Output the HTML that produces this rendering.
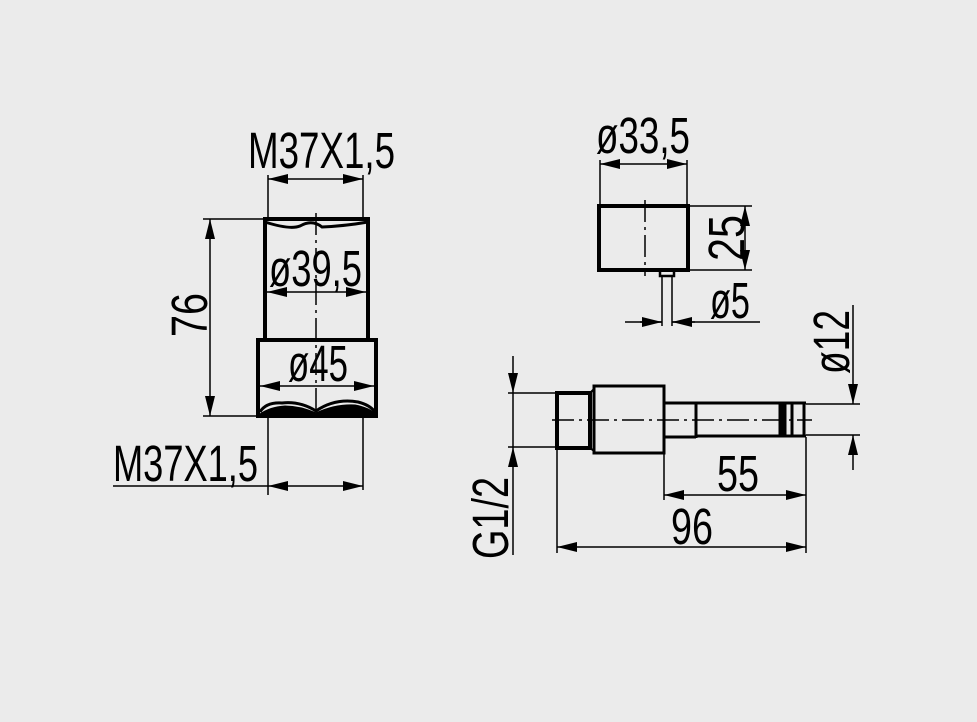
<!DOCTYPE html>
<html><head><meta charset="utf-8"><style>
html,body{margin:0;padding:0;background:#ebebeb;}
svg{display:block}
text{font-family:"Liberation Sans Narrow","Liberation Sans",sans-serif;font-size:51px;fill:#000}
</style></head><body>
<svg width="977" height="722" viewBox="0 0 977 722" xmlns="http://www.w3.org/2000/svg">
<defs>
<marker id="a" viewBox="0 0 20 10" refX="20" refY="5" markerWidth="20" markerHeight="10" markerUnits="userSpaceOnUse" orient="auto-start-reverse"><path d="M0,0 L20,5 L0,10 Z" fill="#000"/></marker>
</defs>
<rect width="977" height="722" fill="#ebebeb"/>
<g stroke="#000" fill="none">
<!-- left part -->
<rect x="265" y="219" width="103" height="121" stroke-width="4"/>
<rect x="258" y="340" width="118" height="76" stroke-width="4"/>
<path d="M265,222 Q290,230 300,226 Q312,219 322,227 Q345,226 368,222" stroke-width="3"/>
<path d="M260,412 Q266,402 282,403 Q300,401 316,411 Q335,398 358,402 Q370,405 375,412" stroke-width="3"/>
<path d="M260,414 Q270,407 285,406 Q300,406 316,413 Q335,404 355,405 Q370,408 375,414 Z" fill="#000" stroke-width="1"/>
<path d="M316,213 V422" stroke-width="1.5" stroke-dasharray="22,5,3,5"/>
<!-- top M37 dim -->
<path d="M268,175 V219 M363,175 V219" stroke-width="1.5"/>
<path d="M268,179 H363" stroke-width="1.5" marker-start="url(#a)" marker-end="url(#a)"/>
<!-- 76 -->
<path d="M203,219 H265 M203,416 H258" stroke-width="1.5"/>
<path d="M210,219 V416" stroke-width="1.5" marker-start="url(#a)" marker-end="url(#a)"/>
<!-- ø39,5 -->
<path d="M267,292 H366" stroke-width="1.5" marker-start="url(#a)" marker-end="url(#a)"/>
<!-- ø45 -->
<path d="M260,386 H374" stroke-width="1.5" marker-start="url(#a)" marker-end="url(#a)"/>
<!-- bottom M37 -->
<path d="M268,416 V495 M363,416 V490" stroke-width="1.5"/>
<path d="M113,486 H268" stroke-width="1.5"/>
<path d="M268,486 H363" stroke-width="1.5" marker-start="url(#a)" marker-end="url(#a)"/>

<!-- right top -->
<rect x="599" y="206" width="89" height="64" stroke-width="4"/>
<path d="M645,200 V276" stroke-width="1.5" stroke-dasharray="22,5,3,5"/>
<rect x="660" y="270" width="14" height="6" stroke-width="2.5"/>
<path d="M662,276 V326 M672,276 V326" stroke-width="1.5"/>
<path d="M600,160 V206 M687,160 V206" stroke-width="1.5"/>
<path d="M600,164 H687" stroke-width="1.5" marker-start="url(#a)" marker-end="url(#a)"/>
<path d="M688,206 H752 M688,270 H752" stroke-width="1.5"/>
<path d="M745,206 V270" stroke-width="1.5" marker-start="url(#a)" marker-end="url(#a)"/>
<path d="M625,322 H662 M672,322 H760" stroke-width="1.5"/>
<path d="M640,322 H662" stroke-width="1.5" marker-end="url(#a)"/>
<path d="M695,322 H672" stroke-width="1.5" marker-end="url(#a)"/>

<!-- bottom right part -->
<rect x="557" y="393" width="33" height="55" stroke-width="4"/>
<path d="M590,393 L594,389 M590,448 L594,451" stroke-width="2"/>
<rect x="594" y="386" width="70" height="67" stroke-width="3"/>
<path d="M664,403 H696 M664,437 H696" stroke-width="3"/>
<path d="M696,402 V438" stroke-width="3"/>
<path d="M696,403 H806 M696,436 H806" stroke-width="3"/>
<rect x="779" y="403" width="7" height="33" fill="#000" stroke-width="1"/>
<path d="M792,403 V436 M804,403 V436" stroke-width="3"/>
<path d="M552,420 H812" stroke-width="1.5" stroke-dasharray="22,5,3,5"/>
<!-- G1/2 -->
<path d="M508,393 H557 M508,447 H557" stroke-width="1.5"/>
<path d="M513,356 V393" stroke-width="1.5" marker-end="url(#a)"/>
<path d="M513,555 V447" stroke-width="1.5" marker-end="url(#a)"/>
<path d="M513,393 V447" stroke-width="1.5"/>
<!-- ø12 -->
<path d="M806,404 H860 M806,435 H860" stroke-width="1.5"/>
<path d="M853,305 V404" stroke-width="1.5" marker-end="url(#a)"/>
<path d="M853,470 V435" stroke-width="1.5" marker-end="url(#a)"/>
<!-- 55 / 96 -->
<path d="M664,453 V500 M806,437 V553 M557,448 V553" stroke-width="1.5"/>
<path d="M664,495 H806" stroke-width="1.5" marker-start="url(#a)" marker-end="url(#a)"/>
<path d="M557,547 H806" stroke-width="1.5" marker-start="url(#a)" marker-end="url(#a)"/>
</g>
<g>
<text x="248" y="168" textLength="147" lengthAdjust="spacingAndGlyphs">M37X1,5</text>
<text x="113" y="481" textLength="145" lengthAdjust="spacingAndGlyphs">M37X1,5</text>
<text x="269" y="286" textLength="93" lengthAdjust="spacingAndGlyphs">ø39,5</text>
<text x="288" y="381" textLength="60" lengthAdjust="spacingAndGlyphs">ø45</text>
<text transform="translate(207,315) rotate(-90)" text-anchor="middle" textLength="44" lengthAdjust="spacingAndGlyphs">76</text>
<text x="596" y="153" textLength="94" lengthAdjust="spacingAndGlyphs">ø33,5</text>
<text transform="translate(744,238) rotate(-90)" text-anchor="middle" textLength="46" lengthAdjust="spacingAndGlyphs">25</text>
<text x="710" y="318" textLength="40" lengthAdjust="spacingAndGlyphs">ø5</text>
<text transform="translate(849,342) rotate(-90)" text-anchor="middle" textLength="64" lengthAdjust="spacingAndGlyphs">ø12</text>
<text transform="translate(508,518) rotate(-90)" text-anchor="middle" textLength="82" lengthAdjust="spacingAndGlyphs">G1/2</text>
<text x="717" y="491" textLength="42" lengthAdjust="spacingAndGlyphs">55</text>
<text x="671" y="544" textLength="42" lengthAdjust="spacingAndGlyphs">96</text>
</g>
</svg>
</body></html>
